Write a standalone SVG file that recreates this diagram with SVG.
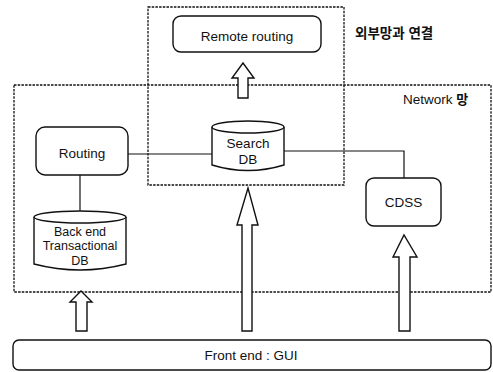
<svg xmlns="http://www.w3.org/2000/svg" width="493" height="372" viewBox="0 0 493 372">
  <style>
    .zone { fill: none; stroke: #111; stroke-width: 1.3; stroke-dasharray: 2.5 1.2; }
    .box { fill: #fff; stroke: #111; stroke-width: 1.4; }
    .db { fill: #fff; stroke: #111; stroke-width: 1.4; }
    .wire { fill: none; stroke: #111; stroke-width: 1.2; }
    .flow { fill: #fff; stroke: #111; stroke-width: 1.4; stroke-linejoin: miter; }
    text { font-family: "Liberation Sans", Arial, sans-serif; font-size: 13.5px; fill: #111; text-anchor: middle; }
    .kr { font-family: "Liberation Sans", "Noto Sans CJK KR", sans-serif; font-weight: bold; text-anchor: start; }
    .lbl { text-anchor: start; }
    .small { font-size: 12.5px; }
  </style>

  <!-- zones -->
  <g id="network-zone">
    <rect class="zone" x="14" y="85" width="477" height="207"/>
    <text x="403" y="104" class="lbl">Network <tspan class="kr" style="font-size:13px">망</tspan></text>
  </g>
  <g id="external-zone">
    <rect class="zone" x="148" y="7" width="196" height="178"/>
    <text x="355" y="38" class="kr" style="font-size:13.5px">외부망과 연결</text>
  </g>

  <!-- connectors -->
  <g id="connectors">
    <path class="wire" d="M128 154 H212"/>
    <path class="wire" d="M80 175 V212"/>
    <path class="wire" d="M284 151 H404 V178"/>
    <!-- block arrows -->
    <path class="flow" d="M238 98 V78 H232 L243 63 L254 78 H248 V98 Z"/>
    <path class="flow" d="M242 331 V225 H237 L248 188 L258 225 H252 V331 Z"/>
    <path class="flow" d="M399 331 V257 H393 L404 235 L417 257 H410 V331 Z"/>
    <path class="flow" d="M76 331 V302 H70 L81 291 L92 302 H87 V331 Z"/>
  </g>

  <!-- nodes -->
  <g id="remote-routing">
    <rect class="box" x="173" y="16" width="148" height="36" rx="8"/>
    <text x="247" y="41">Remote routing</text>
  </g>
  <g id="routing">
    <rect class="box" x="36" y="127" width="92" height="48" rx="9"/>
    <text x="82" y="158">Routing</text>
  </g>
  <g id="search-db">
    <path class="db" d="M212 127 V165 Q248 176 284 165 V127"/>
    <ellipse class="db" cx="248" cy="127" rx="36" ry="6"/>
    <text x="248" y="148">Search</text>
    <text x="248" y="164">DB</text>
  </g>
  <g id="backend-db">
    <path class="db" d="M34 217 V264 Q80 276 126 264 V217"/>
    <ellipse class="db" cx="80" cy="217" rx="46" ry="6"/>
    <text x="80" y="236" class="small">Back end</text>
    <text x="80" y="250" class="small">Transactional</text>
    <text x="80" y="265" class="small">DB</text>
  </g>
  <g id="cdss">
    <rect class="box" x="366" y="178" width="75" height="48" rx="8"/>
    <text x="403.5" y="207">CDSS</text>
  </g>
  <g id="front-end">
    <rect class="box" x="13" y="340" width="478" height="30" rx="6"/>
    <text x="251" y="360">Front end : GUI</text>
  </g>
</svg>
